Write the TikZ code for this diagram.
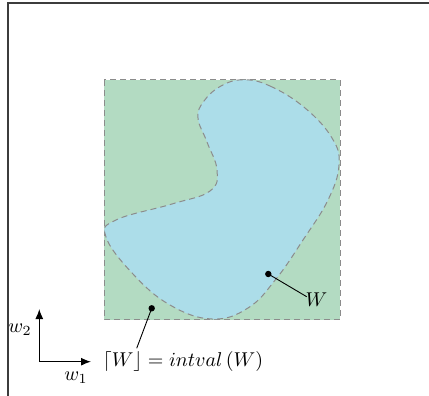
\documentclass[tikz,border=0pt]{standalone}
\usetikzlibrary{arrows.meta}
\definecolor{boxgreen}{RGB}{179,219,194}
\definecolor{blobblue}{RGB}{172,221,233}
\definecolor{edgegray}{RGB}{140,140,140}
\definecolor{framegray}{RGB}{60,60,60}
\begin{document}
\begin{tikzpicture}[x=0.5pt,y=-0.5pt,
  region/.style={draw=edgegray,dash pattern=on 3pt off 2pt,line width=0.5pt},
  dotmark/.style={circle,fill=black,inner sep=0pt,minimum size=3.2pt},
  leader/.style={line width=0.45pt,black},
  axisarrow/.style={line width=0.6pt,-{Latex[length=5pt,width=4pt]}},
  lbl/.style={inner sep=0pt}]
\useasboundingbox (0,0) rectangle (429,396);
% frame
\draw[framegray,line width=1pt] (7.5,396) -- (7.5,2.5) -- (429,2.5);
% interval box
\path[region,fill=boxgreen] (104,79.5) rectangle (340,319.5);
% blob W
\path[region,fill=blobblue] plot[smooth cycle,tension=0.7] coordinates {
 (243,79.8) (270,86) (305,108) (332,138) (339,165) (328,200) (303,240)
 (276,279) (248,308) (212,319) (170,305) (133,274) (106,237)
 (116,220) (172,204) (210,191) (217,170) (207,142) (198,118) (204,101) (221,86)};
% markers
\node[dotmark] (dW) at (268.3,274) {};
\node[dotmark] (dI) at (151.7,308.3) {};
\coordinate (eW) at (306.7,296.7);
\coordinate (eI) at (136.7,348.3);
\node[lbl] (lW) at (316.5,300) {$W$};
\node[lbl] (lI) at (183,361) {$\lceil W\rfloor = intval\,(W)$};
\draw[leader] (dW.center) -- (eW);
\draw[leader] (dI.center) -- (eI);
% axes
\coordinate (o) at (39.3,361.7);
\coordinate (ay) at (39.3,309);
\coordinate (ax) at (91,361.7);
\draw[axisarrow] (o) -- (ay);
\draw[axisarrow] (o) -- (ax);
\node[lbl] (w2) at (20,330) {$w_2$};
\node[lbl] (w1) at (76,378) {$w_1$};
\end{tikzpicture}
\end{document}
